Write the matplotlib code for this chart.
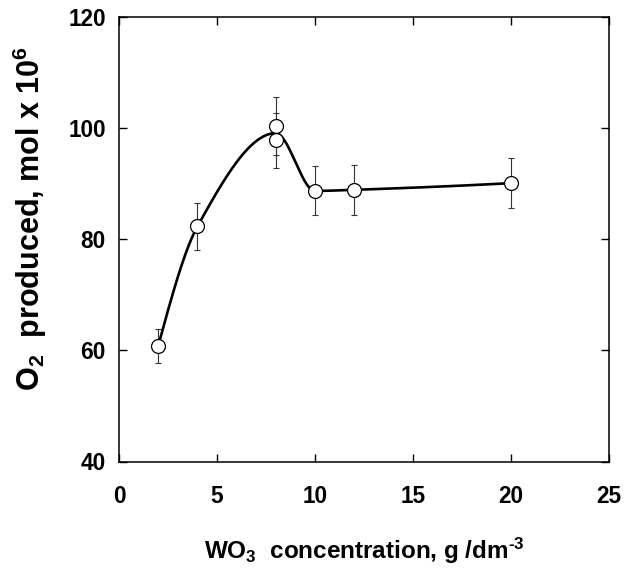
import numpy as np
import matplotlib
matplotlib.use("Agg")
import matplotlib.pyplot as plt

plt.rcParams['font.family'] = ['Liberation Sans', 'DejaVu Sans']
plt.rcParams['font.weight'] = 'bold'
plt.rcParams['mathtext.fontset'] = 'custom'
plt.rcParams['mathtext.rm'] = 'Liberation Sans:bold'
plt.rcParams['mathtext.bf'] = 'Liberation Sans:bold'
plt.rcParams['mathtext.default'] = 'bf'

# data
conc = [2, 4, 8, 8, 10, 12, 20]
o2 = [60.8, 82.3, 100.4, 97.8, 88.7, 88.9, 90.1]
err = [3.05, 4.15, 5.2, 5.0, 4.4, 4.45, 4.5]

# fitted curve nodes (mean at duplicated x)
fit_x = [2, 4, 8, 10, 12, 20]
fit_y = [60.8, 82.3, 99.1, 88.7, 88.9, 90.1]

x_ticks = [0, 5, 10, 15, 20, 25]
y_ticks = [40, 60, 80, 100, 120]


def pchip(xk, yk, xs):
    xk = np.asarray(xk, float)
    yk = np.asarray(yk, float)
    h = np.diff(xk)
    d = np.diff(yk) / h
    n = len(xk)
    m = np.zeros(n)
    for i in range(1, n - 1):
        if d[i - 1] * d[i] > 0:
            w1 = 2 * h[i] + h[i - 1]
            w2 = h[i] + 2 * h[i - 1]
            m[i] = (w1 + w2) / (w1 / d[i - 1] + w2 / d[i])
        else:
            m[i] = 0.0
    def end(h0, h1, d0, d1):
        s = ((2 * h0 + h1) * d0 - h0 * d1) / (h0 + h1)
        if np.sign(s) != np.sign(d0):
            s = 0.0
        elif np.sign(d0) != np.sign(d1) and abs(s) > abs(3 * d0):
            s = 3 * d0
        return s
    m[0] = end(h[0], h[1], d[0], d[1])
    m[-1] = end(h[-1], h[-2], d[-1], d[-2])
    ys = np.empty_like(xs)
    for j, x in enumerate(xs):
        i = min(max(np.searchsorted(xk, x) - 1, 0), n - 2)
        t = (x - xk[i]) / h[i]
        h00 = 2 * t**3 - 3 * t**2 + 1
        h10 = t**3 - 2 * t**2 + t
        h01 = -2 * t**3 + 3 * t**2
        h11 = t**3 - t**2
        ys[j] = h00 * yk[i] + h10 * h[i] * m[i] + h01 * yk[i + 1] + h11 * h[i] * m[i + 1]
    return ys


W, H = 627, 575
fig = plt.figure(figsize=(W / 100, H / 100), dpi=100)
ax = fig.add_axes([119 / W, 1 - 461.5 / H, 490 / W, 444.5 / H])

xs = np.linspace(fit_x[0], fit_x[-1], 400)
ax.plot(xs, pchip(fit_x, fit_y, xs), color='black', lw=1.9, zorder=2)

ax.errorbar(conc, o2, yerr=err, fmt='none', ecolor='#333333', elinewidth=0.8,
            capsize=2.4, capthick=0.8, zorder=1)
ax.plot(conc, o2, 'o', ms=10, mfc='white', mec='black', mew=0.9, zorder=3)

ax.set_xlim(0, 25)
ax.set_ylim(40, 120)
ax.set_xticks(x_ticks)
ax.set_yticks(y_ticks)
ax.tick_params(direction='in', length=6, width=1, top=True, right=True,
               labelsize=16.3)
ax.tick_params(axis='x', pad=17)
ax.tick_params(axis='y', pad=9.5)
for lab in ax.get_xticklabels() + ax.get_yticklabels():
    lab.set_fontweight('bold')
for s in ax.spines.values():
    s.set_linewidth(1.1)

fig.text(364.5 / W, 1 - 551 / H,
         r'WO$_{3}$  concentration, g /dm$^{\text{-}3}$',
         fontsize=17.5, fontweight='bold', ha='center', va='center')
fig.text(30 / W, 1 - 218 / H,
         r'O$_{2}$  produced, mol x 10$^{6}$',
         fontsize=22, fontweight='bold', ha='center', va='center',
         rotation=90)

fig.savefig('out.png', dpi=100)
